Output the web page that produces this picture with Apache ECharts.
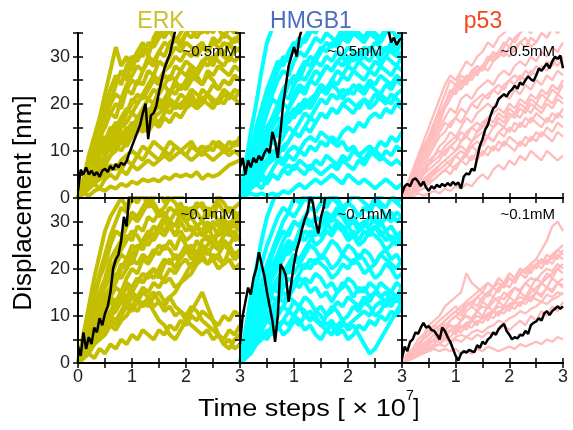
<!DOCTYPE html>
<html><head><meta charset="utf-8">
<script src="https://cdn.jsdelivr.net/npm/echarts@6/dist/echarts.min.js"></script>
<style>html,body{margin:0;padding:0;background:#fff}#c{width:573px;height:430px}</style>
</head><body><div id="c"></div>
<script>
// ---- data ----
const timeCoarse=[0,0.1,0.2,0.3,0.4,0.5,0.6,0.7,0.8,0.9,1,1.1,1.2,1.3,1.4,1.5,1.6,1.7,1.8,1.9,2,2.1,2.2,2.3,2.4,2.5,2.6,2.7,2.8,2.9,3];
const timeFine=[0,0.05,0.1,0.15,0.2,0.25,0.3,0.35,0.4,0.45,0.5,0.55,0.6,0.65,0.7,0.75,0.8,0.85,0.9,0.95,1,1.05,1.1,1.15,1.2,1.25,1.3,1.35,1.4,1.45,1.5,1.55,1.6,1.65,1.7,1.75,1.8,1.85,1.9,1.95,2,2.05,2.1,2.15,2.2,2.25,2.3,2.35,2.4,2.45,2.5,2.55,2.6,2.65,2.7,2.75,2.8,2.85,2.9,2.95,3];
const panelTitles=['ERK','HMGB1','p53'];
const concLabels=['~0.5mM','~0.1mM'];
const xTickLabels=['0','1','2','3'];
const yTickLabels=['0','10','20','30'];

const erkHigh=[
[0,4,9,13,17,22,27,32,28,30,27,31,33,30,34,36,35,38,36,37,39,38,40,37,38,40,41,39,40,42,41],
[0,3,6,9,13,15,18,20,19,23,25,24,27,29,28,31,30,33,34,32,35,36,34,36,37,35,38,37,39,38,40],
[0,2,5,8,10,12,15,14,17,18,21,20,22,24,26,25,27,28,30,29,31,30,32,33,31,34,33,35,34,33,35],
[0,3,4,7,9,11,10,13,15,16,18,17,19,21,20,23,24,22,25,27,26,28,27,29,30,28,31,30,29,32,31],
[0,2,4,6,7,9,11,12,14,13,15,17,16,18,20,19,21,23,22,24,23,25,26,24,27,26,28,27,26,28,27],
[0,1,3,5,6,8,9,11,10,12,13,15,14,16,17,16,18,20,19,20,21,22,20,23,22,24,23,25,24,26,25],
[0,2,3,4,6,7,9,10,12,11,13,14,16,15,17,18,19,18,20,19,20,21,19,20,22,21,20,22,21,23,22],
[0,1,2,4,5,6,7,6,8,9,10,9,11,10,12,11,10,12,11,10,11,12,10,11,10,12,11,10,12,11,13],
[0,1,2,3,2,4,5,4,6,5,7,6,7,8,7,8,9,8,9,10,9,8,9,10,9,8,9,10,9,10,9],
[0,1,0.5,1.5,2,1.5,2.5,2,3,2.5,3.5,3,4,3.5,4,3.5,4.5,4,5,4.5,5,4.5,5.5,4,5,4.5,5,6,7,7.5,8],
[0,3,7,11,14,17,20,22,21,24,26,28,27,30,29,31,33,32,34,33,35,34,36,35,37,36,38,37,39,38,40],
[0,2,4,7,9,10,12,14,13,15,14,16,18,17,19,21,20,22,24,23,25,27,26,28,30,29,31,33,32,34,33],
[0,3,8,12,16,19,23,26,24,28,30,29,32,31,33,35,34,36,33,35,37,36,34,36,35,37,36,34,36,35,37],
[0,2,6,9,12,16,18,17,21,23,22,25,24,27,26,29,28,30,32,31,33,32,30,32,31,33,32,30,33,31,32],
[0,1,4,6,9,11,14,16,15,18,20,22,21,23,25,24,26,25,28,27,29,28,27,29,28,30,29,28,30,29,30],
[0,2,5,8,11,13,12,15,17,19,18,20,22,21,23,22,24,26,25,23,24,26,25,24,26,25,23,25,24,26,25],
[0,1,3,5,7,9,11,13,12,14,16,15,17,19,18,20,19,21,20,22,21,23,22,21,22,20,21,23,22,21,23],
[0,2,4,6,8,7,9,11,13,12,14,16,15,14,16,15,17,16,18,17,19,20,19,21,20,19,21,20,22,21,20],
[0,1,2,3,4,5,6,7,6,8,7,9,8,10,9,8,10,9,11,10,9,11,10,9,11,10,12,11,10,12,11],
[0,3,6,10,13,17,20,24,27,25,29,31,30,33,32,34,36,35,37,36,38,37,39,38,40,39,41,40,42,41,43]
];
const erkHighBlack=[1.5,6,5,6.5,5,5.8,4.8,5.5,4.5,5.8,6.2,5.5,6.8,6,7.2,6.5,7.5,7,7.8,9.5,11,12.5,14,15.5,18,20,12.5,17.5,18,19.5,22.5,25,27.5,29,30.5,33,35.5,38];

const erkLow=[
[0,5,10,15,19,23,27,30,33,32,35,34,36,33,35,37,34,36,38,35,37,36,38,37,39,36,38,37,40,38,39],
[0,4,8,11,14,17,20,22,25,27,26,29,28,31,30,32,31,33,32,34,31,33,32,30,33,31,34,32,33,31,32],
[0,3,6,9,12,14,16,18,21,20,23,25,24,27,26,28,27,29,27,30,28,29,27,28,30,26,28,29,27,28,26],
[0,3,5,7,10,12,14,16,15,18,20,19,22,21,23,25,24,26,24,27,25,23,26,24,25,27,24,26,25,23,24],
[0,2,4,6,8,10,11,13,15,14,16,18,17,19,20,18,21,22,20,23,24,22,23,25,24,22,23,21,24,22,23],
[0,2,3,5,7,8,10,9,11,13,12,14,16,15,17,16,18,20,19,21,22,20,21,23,21,22,20,21,22,20,21],
[0,1,3,4,6,7,9,8,10,12,11,13,12,14,15,13,12,14,15,17,18,19,21,22,21,23,22,21,22,20,21],
[0,2,4,5,7,9,11,12,14,13,15,14,12,13,11,9,8,6,5,7,9,11,13,15,12,9,6,4,3,5,6],
[0,1,2,4,5,6,8,7,9,10,12,11,13,12,14,15,13,14,12,11,10,12,11,9,8,7,6,5,7,6,8],
[0,2,5,7,9,12,14,13,15,17,16,18,17,19,18,20,22,21,23,22,24,25,23,26,27,25,28,30,29,31,30],
[0,4,7,10,13,16,18,21,23,22,25,24,26,28,27,29,31,30,29,32,30,31,29,30,28,30,29,31,28,30,29],
[0,6,12,18,23,28,31,33,35,33,36,35,37,34,36,38,36,37,35,38,36,37,39,36,38,37,35,37,36,38,37],
[0,1,2,1,3,2,4,3,5,4,6,5,7,6,5,7,6,8,7,9,8,10,9,11,10,9,8,10,9,11,10],
[0,5,9,14,18,21,25,28,27,30,32,31,33,35,34,32,33,35,34,32,33,31,33,34,32,33,35,34,32,33,34],
[0,3,7,10,14,17,19,22,24,26,28,27,25,27,29,28,30,29,27,28,26,27,29,28,26,27,25,27,28,26,27],
[0,2,6,9,11,14,16,19,18,20,22,21,23,22,24,23,25,24,22,23,25,24,22,23,24,22,23,25,24,22,23],
[0,2,5,7,9,11,13,12,14,16,15,17,19,18,20,19,17,18,16,17,19,21,22,24,23,25,24,26,25,27,26],
[0,1,3,5,6,8,10,11,13,12,14,13,15,14,12,13,11,12,10,11,9,8,7,6,7,5,6,4,5,3,4],
[0,3,6,8,11,13,15,17,20,22,21,24,26,25,27,29,28,30,32,31,33,32,34,33,31,32,30,31,33,32,31],
[0,4,8,12,15,18,22,24,26,29,31,30,32,34,33,31,32,30,29,31,30,28,29,27,28,29,27,28,30,29,28]
];
const erkLowBlack=[3.5,1.5,6.5,3,5.5,4,7.5,6.5,9.5,8,10.5,12,15,20,22,23,26,31,29,36,40];

const hmgHigh=[
[0,7,14,20,27,33,36,38,37,39,38,40,41,39,42,40,41,43,42,40,41,43,42,44,42,41,43,42,44,43,42],
[0,5,10,15,19,23,26,29,28,31,33,32,34,36,35,37,36,38,37,39,38,40,39,37,38,40,39,38,40,39,41],
[0,4,8,12,15,18,21,20,23,25,24,27,29,28,30,32,31,33,32,34,33,35,34,33,35,34,33,35,36,34,35],
[0,3,6,9,12,14,16,18,20,19,22,24,23,25,27,26,28,27,29,28,30,29,31,30,29,31,30,32,31,30,31],
[0,3,5,8,10,11,13,15,17,16,18,20,19,21,22,24,23,25,24,26,25,27,26,25,27,26,28,27,26,28,27],
[0,2,4,6,8,10,12,11,13,15,14,16,18,17,19,21,20,22,21,23,22,24,23,22,24,23,22,24,23,25,24],
[0,2,3,5,7,8,10,9,11,12,14,13,15,14,16,18,17,19,18,20,19,18,20,21,19,20,22,21,20,22,23],
[0,1,3,4,5,7,8,9,8,10,11,10,12,13,12,14,13,12,11,12,10,11,9,10,11,10,12,11,13,12,14],
[0,1,2,3,2,4,5,4,6,5,7,6,5,7,6,5,6,7,6,8,7,6,8,7,9,10,9,8,7,8,7],
[0,0.5,1,0.5,1,0.5,1,0.5,1.5,1,2,3,2,3,4,3,4,5,4,3,5,4,3,4,3,2,3,4,3,2,3],
[0,4,9,13,17,21,24,27,30,29,32,34,33,35,37,36,38,37,39,38,40,39,41,40,38,40,39,41,40,42,41],
[0,2,5,7,10,13,15,17,16,19,21,23,22,25,24,26,28,27,29,30,28,31,29,30,32,31,29,30,32,31,33],
[0,3,7,10,14,18,22,25,27,26,29,31,30,32,34,33,35,34,33,35,34,36,35,34,36,35,34,36,35,37,36],
[0,2,6,9,12,15,17,20,22,21,24,26,25,27,29,28,30,29,31,30,32,31,30,32,31,33,32,31,33,32,34],
[0,3,5,7,9,12,14,13,16,18,17,19,21,20,22,24,23,25,27,26,28,27,29,28,27,29,28,30,29,28,30],
[0,1,4,6,9,11,13,15,14,17,19,18,20,19,21,23,22,24,23,21,23,22,24,23,25,24,26,25,24,26,25],
[0,2,3,5,6,8,9,11,10,12,14,13,15,17,16,18,17,19,18,20,21,20,19,21,20,22,21,20,22,21,20],
[0,1,2,4,5,4,6,8,7,9,8,10,9,11,10,12,11,13,12,14,15,14,16,15,17,18,17,19,18,20,19],
[0,2,5,8,11,14,17,19,21,24,26,25,28,30,29,31,33,32,34,36,35,37,36,38,37,39,38,37,39,38,40],
[0,1,2,3,4,3,5,4,6,7,6,8,7,6,8,7,9,8,7,9,8,10,9,8,10,9,8,10,9,11,10]
];
const hmgHighBlack=[6.5,8.5,5,8,6.5,8.5,7.5,9,8,9.5,10.5,9.5,14,12,8.5,14,20,24,28,30,32,30,34,36,40,42,44,45,46,47,48,47,46,47,48,47,46,45,46,45,44,43,44,42,41,40,41,39,40,39,38,38,37,37,36,35.5,33,34,32.5,33.5,34];

const hmgLow=[
[0,7,14,20,26,31,34,37,36,38,39,37,40,38,41,39,40,42,41,39,40,42,41,43,40,42,41,39,41,40,42],
[0,5,11,16,21,25,28,31,33,32,35,34,36,35,37,36,38,37,36,38,37,35,36,38,37,36,35,37,36,34,35],
[0,4,9,13,17,20,23,26,28,27,30,29,31,33,32,34,33,35,34,32,34,33,31,33,32,34,33,31,32,30,31],
[0,4,7,11,14,17,19,22,24,23,25,27,26,28,27,29,30,28,30,29,27,28,26,28,27,29,28,26,27,25,27],
[0,3,6,9,12,14,16,18,20,19,22,21,23,25,24,22,24,26,25,23,25,24,22,24,23,21,23,24,22,23,21],
[0,3,5,8,10,12,14,13,16,18,17,19,21,20,22,21,20,18,19,21,20,22,21,19,20,18,19,21,20,18,19],
[0,2,4,7,9,11,10,13,15,14,16,18,17,15,16,14,15,13,15,17,16,14,16,15,17,16,14,15,13,14,12],
[0,2,4,6,8,10,9,11,12,14,13,12,10,11,9,8,10,12,11,9,10,12,11,13,12,10,11,13,12,14,13],
[0,2,3,5,7,6,8,7,9,8,10,9,7,8,6,5,7,6,8,9,7,8,6,4,2,3,5,7,9,11,13],
[0,1,3,4,6,5,7,8,6,7,9,8,10,9,11,10,8,9,7,8,8,9,10,11,10,12,13,12,14,13,15],
[0,3,7,10,13,16,19,21,24,26,25,28,30,29,31,30,32,31,33,32,30,31,29,30,28,29,27,28,26,27,25],
[0,2,5,7,10,12,15,17,19,21,23,22,24,26,28,27,29,31,30,28,29,27,28,30,29,31,30,28,29,27,28],
[0,5,9,13,17,21,24,27,30,32,31,33,35,34,36,35,34,36,35,33,34,36,35,34,33,35,34,33,35,34,33],
[0,3,6,10,13,15,18,20,22,25,24,26,28,27,25,26,28,27,29,28,26,27,25,26,28,27,26,24,25,27,26],
[0,2,5,8,11,13,16,15,18,20,19,21,20,22,21,23,22,20,21,23,22,21,23,22,20,21,23,22,21,20,22],
[0,2,4,6,8,10,12,14,13,15,17,16,18,17,19,18,16,17,15,16,18,17,15,16,14,15,17,16,15,17,16],
[0,1,3,5,7,9,8,10,12,11,13,12,14,13,11,12,10,11,13,12,14,13,12,14,13,15,14,13,15,14,16],
[0,4,8,11,14,18,21,23,26,28,30,29,31,30,28,29,31,30,32,31,29,30,28,29,31,30,29,31,30,32,31],
[0,1,2,4,5,7,6,8,9,11,10,12,11,9,10,8,7,8,6,7,5,6,8,7,9,8,10,9,11,10,12]
];
const hmgLowBlack=[4,10,13,16,14.5,18,20,23.5,21,18.5,15,12,9,4.5,10,21,20,18.5,13,17,21,24,26,28.5,30.5,32,35.5,34,30,27.5,31,33,37,40];

const p53High=[
[0,3,6,9,12,15,18,21,24,26,25,27,29,28,30,31,33,32,34,35,36,37,38,37,39,40,39,41,40,42,41],
[0,2,5,8,11,13,16,18,20,23,22,24,26,25,27,28,27,29,30,31,30,32,33,34,32,33,35,34,36,35,36],
[0,2,4,7,9,11,13,15,17,19,18,21,22,21,23,24,25,24,26,27,26,28,29,28,30,29,31,30,32,31,33],
[0,1,3,5,7,9,11,13,14,16,17,16,18,20,19,21,22,23,22,24,25,24,26,25,27,26,28,27,29,28,30],
[0,1,3,4,6,8,9,11,12,14,13,15,17,16,18,19,20,19,21,22,21,23,22,24,23,25,24,26,25,27,26],
[0,1,2,4,5,7,8,9,11,12,13,12,14,15,16,15,17,18,19,18,20,19,21,20,22,21,23,22,24,23,25],
[0,1,2,3,5,6,7,8,10,11,10,12,13,12,14,15,16,15,17,16,18,17,19,18,20,19,18,20,19,21,20],
[0,0.5,1,2,3,4,5,6,7,8,9,8,10,11,10,12,13,12,14,13,15,14,16,15,17,16,15,17,16,18,17],
[0,0.5,1,1.5,2,3,4,5,6,5,7,8,7,9,8,10,9,11,10,12,11,10,12,11,13,12,14,13,12,14,13],
[0,0.5,0.3,1,0.5,1,1.5,1,2,1.5,2.5,2,3,2.5,4,5,4,6,7,6,8,7,9,8,10,9,8,10,9,8,9],
[0,2,4,6,9,11,14,16,19,21,23,25,24,26,28,27,29,31,30,32,34,33,35,36,35,37,36,38,37,39,38],
[0,1,2,3,4,5,6,7,8,9,10,11,10,12,13,14,13,15,16,15,17,18,17,19,18,20,19,21,20,22,21],
[0,2,5,7,10,12,15,17,20,22,24,23,25,27,26,28,30,29,31,33,32,34,35,36,35,37,36,38,37,39,38],
[0,1,3,6,8,10,12,14,16,15,17,19,18,20,21,22,21,23,24,23,25,26,25,27,26,28,27,29,28,30,29],
[0,1,2,4,6,7,9,10,9,11,12,14,13,15,14,16,17,16,18,17,19,18,20,19,21,20,22,21,23,22,24],
[0,0.5,1.5,2.5,3.5,4.5,5.5,7,8,7,9,10,9,11,12,11,13,12,14,15,14,16,15,17,16,18,17,16,18,17,19],
[0,2,4,7,10,13,16,19,22,25,24,26,25,27,28,27,29,30,31,30,32,31,33,32,34,33,35,34,36,35,37],
[0,0.5,1,2,3,3.5,4,5,6,7,6,8,9,8,10,9,11,10,12,11,13,12,11,13,12,14,13,15,14,16,15]
];
const p53HighBlack=[1,2.5,3,2.5,3.8,4.2,3.5,2.5,3.5,2.2,1.5,2.5,2,2.8,2.3,3,2.5,3.2,2.6,3.4,2.8,3.3,2,4.5,5.2,5,6.2,5.8,8.5,11,12.5,14.5,15.5,17.5,19,19.5,21,21.5,22,21.5,22.5,23,23.8,23.2,24.5,24,25,25.8,25.2,24.8,26,27.5,27,27.8,28.5,27.5,29,30,29.5,30.2,27.5];

const p53Low=[
[0,1,2,3,4,5,6,7,8,9,10,11,12,13,12,14,15,14,16,17,16,18,19,20,21,22,24,26,29,30,28],
[0,2,3,5,6,8,9,10,12,13,14,15,19,17,16,15,17,16,18,17,19,18,20,19,21,22,21,23,22,24,23],
[0,1,3,4,5,6,8,7,9,10,11,10,12,13,14,13,15,16,15,17,18,17,19,18,20,21,20,22,21,23,22],
[0,1,2,4,5,6,7,8,7,9,10,9,11,12,11,13,12,14,13,15,14,16,15,17,16,18,17,19,18,20,19],
[0,1,2,3,4,5,6,5,7,8,7,9,10,9,11,10,12,11,13,12,14,13,15,14,16,15,17,16,18,17,18],
[0,0.5,1,2,3,4,5,6,5,7,6,8,7,9,8,10,9,11,10,12,11,13,12,14,13,15,14,16,15,17,16],
[0,1,2,3,3.5,4,5,4.5,6,5.5,7,6.5,8,7.5,9,8.5,10,9.5,11,10.5,12,11.5,13,12.5,14,13.5,13,14.5,14,15,14.5],
[0,0.5,1.5,2,3,2.5,3.5,4,3.5,4.5,5,4.5,5.5,5,6,5.5,6.5,6,7,8,7,8,9,8,10,9,11,10,12,11,13],
[0,0.5,1,1.5,2,2.5,3,2.5,3,2.5,3,2,2.5,2,3,2.5,3.5,3,2.5,3,3.5,3,4,3.5,4,4.5,4,5,4.5,5.5,5],
[0,1,2,2.5,3.5,4.5,5,6,6.5,7,8,7.5,8.5,9,10,9.5,10.5,11,12,11.5,12.5,13,14,13.5,15,16,17,18,19,20,21],
[0,1.5,3,4,5.5,7,8,9,10,11,12,11,13,12,14,15,14,16,17,16,18,17,19,20,19,21,22,21,23,24,25],
[0,0.5,1,2,2.5,3.5,4,5,6,7,6.5,7.5,8,9,8.5,9.5,10,11,10.5,11.5,12,13,12.5,13.5,14,15,14.5,16,15.5,17,16.5],
[0,1,2.5,3.5,5,6,7,8,9,10,11,12,13,14,15,16,17,16,18,17,19,18,20,19,21,20,22,21,23,22,24],
[0,1,2,3,4,5,4.5,6,7,8,7.5,9,10,9.5,11,12,11.5,13,14,13.5,15,16,15.5,17,18,17.5,19,20,19.5,21,20],
[0,0.5,1,1.5,2.5,3,3.5,4,5,4.5,5.5,6,5.5,6.5,7,6.5,7.5,8,9,8.5,9.5,10,11,10.5,11.5,12,13,12.5,13.5,14,15]
];
const p53LowBlack=[1,3.5,2.5,4.5,5,6.5,6.2,7.5,8.5,7.5,7.8,7,6.8,6,5,7.5,6.8,5.5,4.5,3,1.5,0.5,2,2.5,2.2,2.8,2.5,2.3,3.8,3.2,4.5,4,5,5.5,6.5,6,7.2,7.8,8.3,6.8,6,5,5.5,5.2,6,5.8,6.8,6.2,8,8.5,8.8,9.5,9,10.5,11,10.2,11,11.5,12,11.5,12];

// ---- layout / styles ----
const colLeft=[78,240,402], colWidth=[162,162,161];
const rowTop=[33,198], rowHeight=[165,165];
const traceColors=['#c3bf00','#00ffff','#ffbcbc'];
const traceWidths=[4,4,2.3];
const titleColors=['#c9c02a','#4b6cbf','#f2471e'];
const FONT='"Liberation Sans", Arial, sans-serif';

const panels=[
 {row:0,col:0,traces:erkHigh,black:erkHighBlack},
 {row:0,col:1,traces:hmgHigh,black:hmgHighBlack},
 {row:0,col:2,traces:p53High,black:p53HighBlack},
 {row:1,col:0,traces:erkLow,black:erkLowBlack},
 {row:1,col:1,traces:hmgLow,black:hmgLowBlack},
 {row:1,col:2,traces:p53Low,black:p53LowBlack}
];

const grid=[],xAxis=[],yAxis=[],series=[];
const axisLineStyle={show:true,lineStyle:{color:'#000',width:2}};
const tickStyle={show:true,inside:true,length:5,lineStyle:{color:'#000',width:1.5}};
panels.forEach((p,i)=>{
  grid.push({left:colLeft[p.col],top:rowTop[p.row],width:colWidth[p.col],height:rowHeight[p.row],containLabel:false});
  const showX=p.row===1;
  xAxis.push({type:'value',gridIndex:i,position:'bottom',min:0,max:3,interval:0.5,z:10,
    axisLine:axisLineStyle,axisTick:tickStyle,splitLine:{show:false},
    axisLabel:{show:showX,fontSize:18,fontFamily:FONT,color:'#222',margin:5,showMinLabel:true,showMaxLabel:true,
      formatter:v=>{const s=String(v); if(!xTickLabels.includes(s)) return ''; if(p.col>0&&v===0) return ''; return s;}}});
  xAxis.push({type:'value',gridIndex:i,position:'top',min:0,max:3,interval:0.5,z:10,
    axisLine:axisLineStyle,axisTick:tickStyle,splitLine:{show:false},axisLabel:{show:false}});
  yAxis.push({type:'value',gridIndex:i,position:'left',min:0,max:35,interval:5,z:10,
    axisLine:axisLineStyle,axisTick:tickStyle,splitLine:{show:false},
    axisLabel:{show:p.col===0,fontSize:18,fontFamily:FONT,color:'#222',margin:8,showMinLabel:true,
      formatter:v=>yTickLabels.includes(String(v))?String(v):''}});
  yAxis.push({type:'value',gridIndex:i,position:'right',min:0,max:35,interval:5,z:10,
    axisLine:axisLineStyle,axisTick:tickStyle,splitLine:{show:false},axisLabel:{show:false}});
  p.traces.forEach(tr=>{
    series.push({type:'line',xAxisIndex:2*i,yAxisIndex:2*i,symbol:'none',silent:true,animation:false,clip:true,
      lineStyle:{color:traceColors[p.col],width:traceWidths[p.col],join:'bevel'},
      data:tr.map((v,k)=>[timeCoarse[k],v])});
  });
  series.push({type:'line',xAxisIndex:2*i,yAxisIndex:2*i,symbol:'none',silent:true,animation:false,clip:true,z:5,
    lineStyle:{color:'#000',width:2.5},data:p.black.map((v,k)=>[timeFine[k],v])});
});

const graphic=[];
const titleX=[161,311,483];
panelTitles.forEach((t,c)=>graphic.push({type:'text',x:titleX[c],y:22,z:100,
  style:{text:t,fill:titleColors[c],font:'23px '+FONT,align:'center',verticalAlign:'middle'}}));
const annRight=[[237,382,555],[235,392,555]], annY=[52,215];
[0,1].forEach(r=>[0,1,2].forEach(c=>graphic.push({type:'text',x:annRight[r][c],y:annY[r],z:100,
  style:{text:concLabels[r],fill:'#000',font:'15px '+FONT,align:'right',verticalAlign:'middle'}})));
graphic.push({type:'text',x:24,y:203,rotation:Math.PI/2,z:100,
  style:{text:'Displacement [nm]',fill:'#000',font:'26px '+FONT,align:'center',verticalAlign:'middle'}});
graphic.push({type:'text',x:198,y:410,scaleX:1.18,z:100,
  style:{text:'Time steps [ × 10',fill:'#000',font:'23px '+FONT,align:'left',verticalAlign:'middle'}});
graphic.push({type:'text',x:406,y:396,z:100,
  style:{text:'7',fill:'#000',font:'14px '+FONT,align:'left',verticalAlign:'middle'}});
graphic.push({type:'text',x:413,y:410,z:100,
  style:{text:']',fill:'#000',font:'23px '+FONT,align:'left',verticalAlign:'middle'}});

const chart=echarts.init(document.getElementById('c'),null,{renderer:'canvas'});
chart.setOption({animation:false,backgroundColor:'#fff',grid,xAxis,yAxis,series,graphic});
</script></body></html>
